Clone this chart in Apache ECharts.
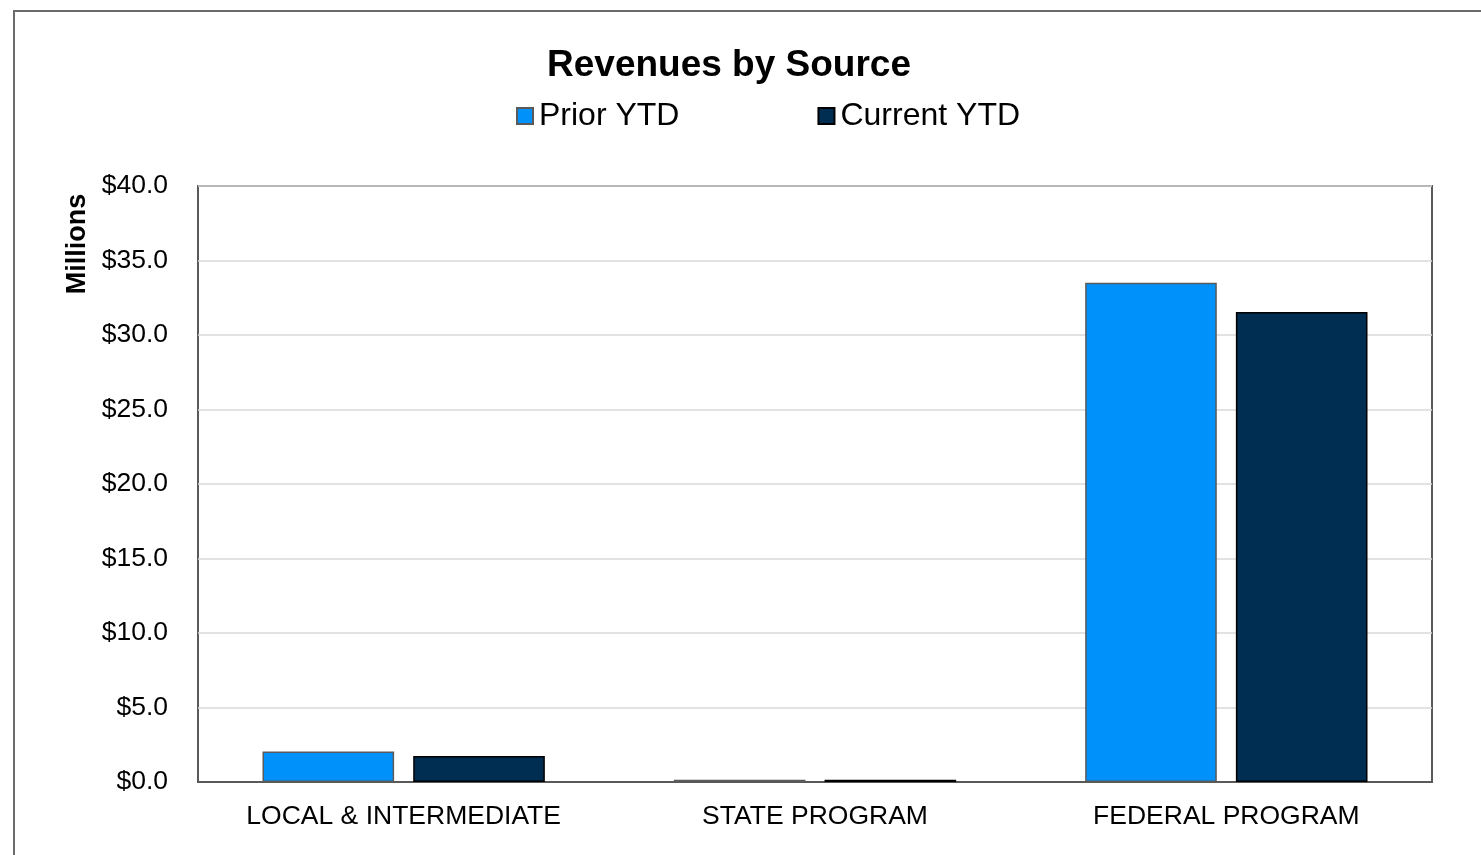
<!DOCTYPE html>
<html>
<head>
<meta charset="utf-8">
<script src="https://cdn.jsdelivr.net/npm/echarts@6/dist/echarts.min.js"></script>
<style>html,body{margin:0;padding:0;background:#fff;}#c{width:1481px;height:855px;}</style>
</head>
<body>
<div id="c"></div>
<script>
const categories = ['LOCAL & INTERMEDIATE', 'STATE PROGRAM', 'FEDERAL PROGRAM'];
const priorYTD = [2.05, 0.15, 33.5];
const currentYTD = [1.75, 0.15, 31.55];
const seriesNames = ['Prior YTD', 'Current YTD'];

const font = 'Liberation Sans, Arial, sans-serif';
const chart = echarts.init(document.getElementById('c'), null, {renderer: 'canvas'});
chart.setOption({
  animation: false,
  backgroundColor: '#fff',
  title: {
    text: 'Revenues by Source',
    left: 724, top: 42, textAlign: 'center',
    textStyle: {fontFamily: font, fontSize: 37, fontWeight: 'bold', color: '#000'}
  },
  legend: {
    left: 511, top: 95,
    itemWidth: 16, itemHeight: 16, itemGap: 138,
    icon: 'rect',
    textStyle: {fontFamily: font, fontSize: 32, color: '#000', padding: [0, 0, 0, 1]},
    data: seriesNames
  },
  grid: {left: 198, right: 49, top: 186, bottom: 73, containLabel: false,
    show: true, borderColor: '#595959', borderWidth: 2},
  xAxis: {
    type: 'category', data: categories,
    axisLine: {show: true, lineStyle: {color: '#595959', width: 2}},
    axisTick: {show: false},
    axisLabel: {fontFamily: font, fontSize: 26.5, color: '#000', margin: 21}
  },
  yAxis: {
    type: 'value', min: 0, max: 40, interval: 5,
    axisLine: {show: false},
    axisTick: {show: false},
    splitLine: {lineStyle: {color: '#d9d9d9', width: 1.5}},
    axisLabel: {fontFamily: font, fontSize: 26.5, color: '#000', margin: 30,
      padding: [5, 0, 0, 0],
      formatter: v => '$' + v.toFixed(1)}
  },
  graphic: [
    {type: 'rect', shape: {x: 14, y: 11, width: 1500, height: 900},
      style: {fill: 'none', stroke: '#6b6b6b', lineWidth: 2}, z: -1},
    {type: 'text', x: 78, y: 244, rotation: Math.PI / 2,
      style: {text: 'Millions', font: 'bold 27px ' + font, fill: '#000',
        textAlign: 'center', textVerticalAlign: 'middle'}}
  ],
  series: [
    {name: seriesNames[0], type: 'bar', data: priorYTD, barWidth: '32%', barGap: '14.5%',
      itemStyle: {color: '#0092FA', borderColor: '#5a5a5a', borderWidth: 1.5}},
    {name: seriesNames[1], type: 'bar', data: currentYTD, barWidth: '32%',
      itemStyle: {color: '#002E52', borderColor: '#000', borderWidth: 1.5}}
  ]
});
</script>
</body>
</html>
